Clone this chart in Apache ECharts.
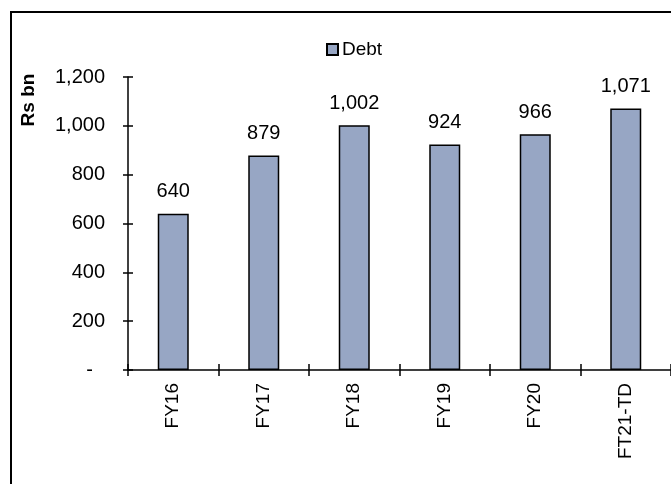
<!DOCTYPE html>
<html>
<head>
<meta charset="utf-8">
<script src="https://cdn.jsdelivr.net/npm/echarts@6/dist/echarts.min.js"></script>
<style>
  html, body { margin: 0; padding: 0; background: #fff; }
  #chart { width: 671px; height: 484px; }
</style>
</head>
<body>
<div id="chart"></div>
<script>
// Debt by fiscal year, Rs bn
const categories = ['FY16', 'FY17', 'FY18', 'FY19', 'FY20', 'FT21-TD'];
const debt = [640, 879, 1002, 924, 966, 1071];
const yTicks = { min: 0, max: 1200, step: 200 };

const FONT = '"Liberation Sans", Arial, sans-serif';
const fmt = v => (v === 0 ? '-' : v.toLocaleString('en-US'));

const chart = echarts.init(document.getElementById('chart'));

const grid = { left: 128, top: 77, bottom: 114, width: 555 };

const yBase = {
  type: 'value',
  min: yTicks.min,
  max: yTicks.max,
  interval: yTicks.step,
  position: 'left',
  splitLine: { show: false },
};
const xBase = {
  type: 'category',
  data: categories,
  position: 'bottom',
  boundaryGap: true,
};

chart.setOption({
  animation: false,
  textStyle: { fontFamily: FONT },
  grid: grid,
  legend: {
    data: ['Debt'],
    left: 321,
    top: 35,
    icon: 'rect',
    itemWidth: 11,
    itemHeight: 11,
    itemGap: 4,
    textStyle: { fontSize: 19, color: '#000', fontFamily: FONT, padding: [0, 0, 0, -1] },
  },
  xAxis: [
    Object.assign({}, xBase, {
      axisLine: { show: true, lineStyle: { color: '#000', width: 1.5 } },
      axisTick: { show: true, inside: false, length: 6, lineStyle: { color: '#000', width: 1.5 } },
      axisLabel: { rotate: 90, margin: 13, fontSize: 19, color: '#000', fontFamily: FONT },
    }),
    Object.assign({}, xBase, {
      axisLine: { show: false },
      axisTick: { show: true, inside: true, length: 6, lineStyle: { color: '#000', width: 1.5 } },
      axisLabel: { show: false },
    }),
  ],
  yAxis: [
    Object.assign({}, yBase, {
      axisLine: { show: true, lineStyle: { color: '#000', width: 1.5 } },
      axisTick: { show: true, inside: false, length: 5, lineStyle: { color: '#000', width: 1.5 } },
      axisLabel: {
        margin: 23,
        fontSize: 20,
        color: '#000',
        fontFamily: FONT,
        formatter: v => (v === 0 ? '{dash|-}' : fmt(v)),
        rich: { dash: { fontSize: 20, fontFamily: FONT, color: '#000', padding: [0, 12, 0, 0] } },
      },
    }),
    Object.assign({}, yBase, {
      axisLine: { show: false },
      axisTick: { show: true, inside: true, length: 5, lineStyle: { color: '#000', width: 1.5 } },
      axisLabel: { show: false },
    }),
  ],
  series: [{
    name: 'Debt',
    type: 'bar',
    xAxisIndex: 0,
    yAxisIndex: 0,
    data: debt,
    barWidth: 31,
    itemStyle: { color: '#97a6c4', borderColor: '#000', borderWidth: 1.5 },
    label: {
      show: true,
      position: 'top',
      distance: 12,
      fontSize: 20,
      color: '#000',
      fontFamily: FONT,
      formatter: p => fmt(p.value),
    },
  }],
  graphic: [
    {
      type: 'rect',
      shape: { x: 11, y: 12, width: 720, height: 520 },
      style: { fill: 'none', stroke: '#000', lineWidth: 2 },
      silent: true,
    },
    {
      type: 'text',
      x: 29,
      y: 100,
      rotation: Math.PI / 2,
      style: {
        text: 'Rs bn',
        font: 'bold 19px "Liberation Sans", Arial, sans-serif',
        fill: '#000',
        align: 'center',
        verticalAlign: 'middle',
      },
    },
  ],
});
</script>
</body>
</html>
